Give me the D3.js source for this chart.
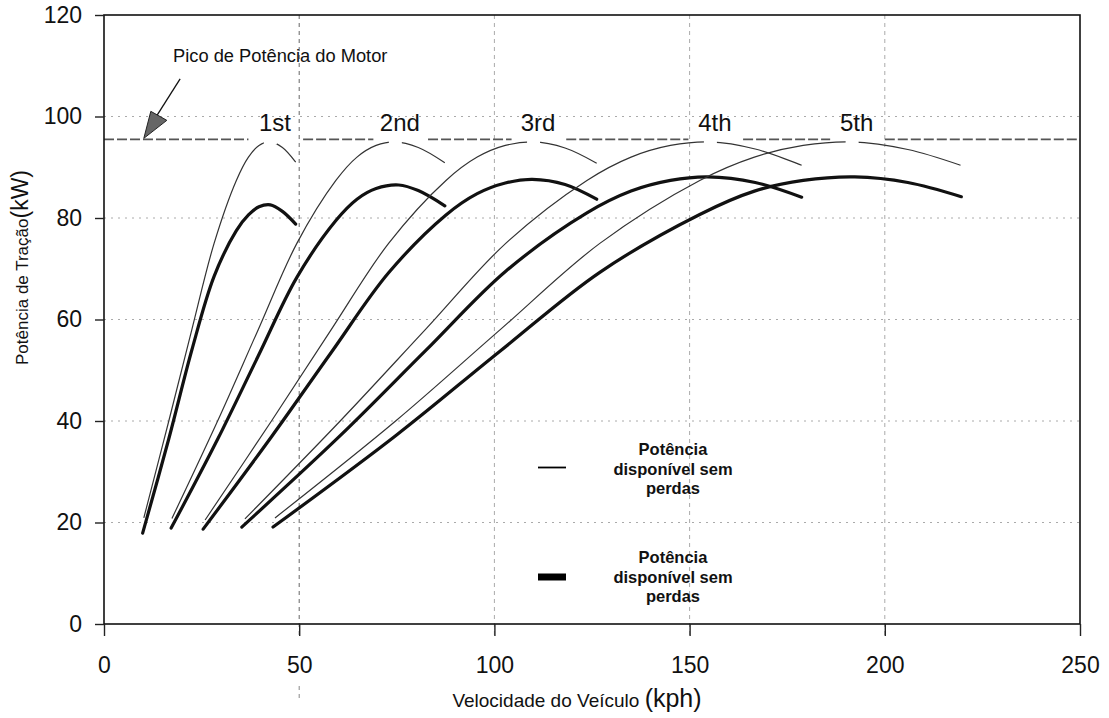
<!DOCTYPE html>
<html>
<head>
<meta charset="utf-8">
<script src="https://cdn.jsdelivr.net/npm/d3@7"></script>
<style>
  html, body { margin: 0; padding: 0; background: #fff; }
  svg { display: block; }
  text { font-family: Arial, "Liberation Sans", Helvetica, sans-serif; fill: #111; }
</style>
</head>
<body>
<svg id="chart" width="1109" height="718"></svg>
<script>
// ---- data: tractive power (kW) against vehicle speed (kph) per gear ----
const gears = ["1st", "2nd", "3rd", "4th", "5th"];

// power without losses (thin curves)
const thinSpeed = [
  [10.2, 16.6, 22.5, 28.2, 33.9, 37.0, 39.7, 42.5, 45.7, 49.1],
  [17.4, 29.1, 39.5, 49.4, 59.4, 64.8, 69.7, 74.5, 80.5, 87.3],
  [25.9, 42.9, 58.2, 72.9, 87.6, 95.6, 102.8, 109.9, 118.1, 126.2],
  [36.1, 60.5, 82.3, 102.9, 123.7, 135.0, 145.1, 155.2, 166.8, 178.7],
  [43.8, 74.7, 101.5, 127.0, 152.6, 166.6, 179.1, 191.5, 205.9, 219.4]
];
const thinPower = [
  [20.9, 40, 58, 75, 87.4, 92, 94.3, 95, 93.9, 91.0],
  [20.8, 40, 58, 75, 87.4, 92, 94.3, 95, 93.9, 90.9],
  [20.5, 40, 58, 75, 87.4, 92, 94.3, 95, 93.8, 90.8],
  [20.7, 40, 58, 75, 87.4, 92, 94.3, 95, 93.6, 90.4],
  [20.9, 40, 58, 75, 87.4, 92, 94.3, 95, 93.5, 90.4]
];

// power at the wheels with losses (thick curves)
const thickSpeed = [
  [9.9, 16.6, 22.5, 28.2, 33.9, 37.0, 39.7, 42.6, 45.7, 49.1],
  [17.2, 29.1, 39.5, 49.4, 59.4, 64.8, 69.7, 75.5, 80.5, 87.3],
  [25.4, 42.9, 58.2, 72.9, 87.6, 95.6, 102.8, 109.7, 118.1, 126.2],
  [35.3, 60.5, 82.3, 102.9, 123.7, 135.0, 145.1, 154.6, 166.8, 178.7],
  [43.3, 74.7, 101.5, 127.0, 152.6, 166.6, 179.1, 192.3, 205.9, 219.6]
];
const thickPower = [
  [17.9, 36.5, 54.0, 68.5, 77.5, 80.6, 82.2, 82.6, 81.3, 78.8],
  [18.9, 36.4, 52.8, 68.3, 79.5, 83.7, 85.8, 86.5, 85.4, 82.4],
  [18.7, 36.9, 53.5, 69.2, 80.6, 84.8, 86.9, 87.6, 86.6, 83.7],
  [19.1, 37.1, 53.8, 69.5, 81.0, 85.3, 87.4, 88.1, 87.0, 84.1],
  [19.1, 37.1, 53.8, 69.3, 80.7, 85.3, 87.4, 88.1, 87.0, 84.2]
];

const enginePeak = 95.5;          // engine peak power, kW
const xTicks = [0, 50, 100, 150, 200, 250];
const yTicks = [0, 20, 40, 60, 80, 100, 120];
const xGrid = [50, 100, 150, 200];
const yGrid = [20, 40, 60, 80, 100];
const legendLabels = ["Potência", "disponível sem", "perdas"];

// ---- layout ----
const svg = d3.select("#chart");
const x = d3.scaleLinear().domain([0, 250]).range([104, 1080]);
const y = d3.scaleLinear().domain([0, 120]).range([624, 15]);

// grid
const grid = svg.append("g");
grid.selectAll("line.h").data(yGrid).join("line")
  .attr("x1", x(0)).attr("x2", x(250))
  .attr("y1", d => y(d)).attr("y2", d => y(d))
  .attr("stroke", "#aaa").attr("stroke-width", 1)
  .attr("stroke-dasharray", "2,5");
grid.selectAll("line.v").data(xGrid).join("line")
  .attr("x1", d => x(d)).attr("x2", d => x(d))
  .attr("y1", y(120)).attr("y2", y(0) + 12)
  .attr("stroke", d => d === 50 ? "#666" : "#aaa").attr("stroke-width", 1)
  .attr("stroke-dasharray", "4,4");
// stray continuation of the 50 kph line below the axis labels
grid.append("line")
  .attr("x1", x(50)).attr("x2", x(50)).attr("y1", 686).attr("y2", 698)
  .attr("stroke", "#888").attr("stroke-width", 1).attr("stroke-dasharray", "4,4");

// engine peak power reference line, broken around each gear's peak
const peakSpeeds = thinSpeed.map((s, i) => s[thinPower[i].indexOf(d3.max(thinPower[i]))]);
const gapHalf = 7;
const segs = [];
let start = 0;
peakSpeeds.forEach(p => {
  segs.push([start, p + 1.5 - gapHalf]);
  start = p + 1.5 + gapHalf;
});
segs.push([start, 250]);
svg.append("g").selectAll("line").data(segs).join("line")
  .attr("x1", d => x(d[0])).attr("x2", d => x(d[1]))
  .attr("y1", y(enginePeak)).attr("y2", y(enginePeak))
  .attr("stroke", "#555").attr("stroke-width", 1.6)
  .attr("stroke-dasharray", "10,3");

// curves
const line = d3.line().x(d => x(d[0])).y(d => y(d[1])).curve(d3.curveCatmullRom.alpha(0.5));
const curves = svg.append("g").attr("fill", "none");
gears.forEach((g, i) => {
  curves.append("path")
    .attr("d", line(d3.zip(thinSpeed[i], thinPower[i])))
    .attr("stroke", "#333").attr("stroke-width", 1.2);
  curves.append("path")
    .attr("d", line(d3.zip(thickSpeed[i], thickPower[i])))
    .attr("stroke", "#111").attr("stroke-width", 3.2)
    .attr("stroke-linecap", "round");
});
// small break at the top of each thin curve
svg.append("g").selectAll("rect").data(peakSpeeds).join("rect")
  .attr("x", d => x(d) - 6).attr("width", 13)
  .attr("y", y(enginePeak) - 2).attr("height", 7)
  .attr("fill", "#fff");

// gear labels
svg.append("g").selectAll("text").data(gears).join("text")
  .attr("x", (d, i) => x(peakSpeeds[i]) + 5)
  .attr("y", 131)
  .attr("text-anchor", "middle")
  .attr("font-size", 24)
  .text(d => d);

// frame
svg.append("rect")
  .attr("x", x(0)).attr("y", y(120))
  .attr("width", x(250) - x(0)).attr("height", y(0) - y(120))
  .attr("fill", "none").attr("stroke", "#111").attr("stroke-width", 1.6);

// axes
const xAxis = svg.append("g").attr("transform", `translate(0,${y(0)})`)
  .call(d3.axisBottom(x).tickValues(xTicks).tickSize(12).tickPadding(21).tickFormat(d3.format("d")));
const yAxis = svg.append("g").attr("transform", `translate(${x(0)},0)`)
  .call(d3.axisLeft(y).tickValues(yTicks).tickSize(9).tickPadding(13).tickFormat(d3.format("d")));
[xAxis, yAxis].forEach(a => {
  a.select(".domain").remove();
  a.selectAll(".tick line").attr("stroke", "#222").attr("stroke-width", 1.4);
  a.selectAll(".tick text").attr("font-size", 23).attr("fill", "#111")
    .attr("font-family", "Arial, 'Liberation Sans', sans-serif");
});

// axis titles
const xt = svg.append("text").attr("x", 577).attr("y", 707).attr("text-anchor", "middle");
xt.append("tspan").attr("font-size", 19).text("Velocidade do Veículo ");
xt.append("tspan").attr("font-size", 25).text("(kph)");

const yt = svg.append("text")
  .attr("transform", "translate(28,365) rotate(-90)")
  .attr("text-anchor", "start");
yt.append("tspan").attr("font-size", 17).text("Potência de Tração");
yt.append("tspan").attr("font-size", 23).text("(kW)");

// peak annotation with arrow
svg.append("text").attr("x", 173).attr("y", 62).attr("font-size", 18.3)
  .text("Pico de Potência do Motor");
const tip = [x(10.2), y(enginePeak) - 1];
const tail = [x(19.5), y(107.4)];
svg.append("line")
  .attr("x1", tail[0]).attr("y1", tail[1])
  .attr("x2", tip[0] + 10).attr("y2", tip[1] - 18)
  .attr("stroke", "#111").attr("stroke-width", 1.3);
svg.append("path")
  .attr("d", `M${tip[0]},${tip[1]} L${tip[0] + 7},${tip[1] - 27} L${tip[0] + 23},${tip[1] - 18} Z`)
  .attr("fill", "#666").attr("stroke", "#222").attr("stroke-width", 1);

// legend
const legend = [
  { y: 467.5, w: 1.8, base: 455 },
  { y: 577, w: 7, base: 563 }
];
const lg = svg.append("g");
legend.forEach(l => {
  lg.append("line").attr("x1", 538).attr("x2", 566)
    .attr("y1", l.y).attr("y2", l.y)
    .attr("stroke", "#000").attr("stroke-width", l.w);
  const t = lg.append("text").attr("x", 673).attr("y", l.base)
    .attr("text-anchor", "middle").attr("font-size", 16.5).attr("font-weight", "bold");
  legendLabels.forEach((s, k) => {
    t.append("tspan").attr("x", 673).attr("dy", k === 0 ? 0 : 19.5).text(s);
  });
});
</script>
</body>
</html>
